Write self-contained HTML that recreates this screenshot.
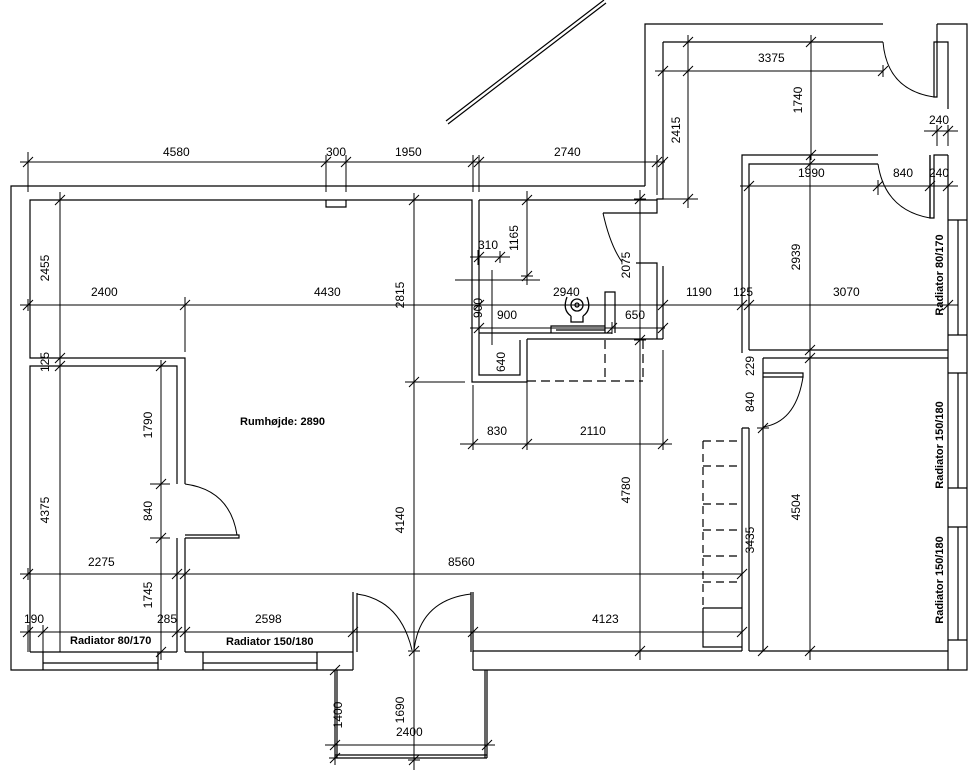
<!DOCTYPE html>
<html><head><meta charset="utf-8"><style>
html,body{margin:0;padding:0;background:#fff;}
svg{display:block}
text{font-family:"Liberation Sans",sans-serif;font-size:12px;fill:#000;}
.b{font-weight:bold;font-size:11px}
</style></head><body>
<svg width="980" height="784" viewBox="0 0 980 784" xmlns="http://www.w3.org/2000/svg">
<defs><path id="t" d="M-5 5 L5 -5 M0 -6 L0 6" stroke="#000" stroke-width="1" fill="none"/>
<path id="tv" d="M-5 5 L5 -5 M-6 0 L6 0" stroke="#000" stroke-width="1" fill="none"/></defs>
<g stroke="#000" stroke-width="1.2" fill="none">
<!-- diagonal -->
<path d="M446 121 L604 0 M448 124 L606 3"/>
<!-- outer walls -->
<path d="M645 186 H11 V670 H353"/>
<path d="M645 186 V24 H883 M937 24 H967 V670 H473"/>
<path d="M937 24 V97 H934 V42 H948 V109 M948 155 H934 V218 H930 V155"/>
<!-- corridor inner -->
<path d="M663 42 H883 M663 42 V199 H657 V213 H603"/>
<path d="M636 263 H657 V339 M663 266 V339 M527 339 H663"/>
<!-- main inner top -->
<path d="M30 652 V366 H177 V484 M185 484 V358 H30 V200 H472 V382 H527 V339 M479 200 H657 M479 200 V340 M479 340 V375 H520 V340 M479 333 H612"/>
<path d="M326 200 V207 H346 V200"/>
<path d="M605 333 V292 H615 V333 M551 333 V326 H605 M556 330 H605"/>
<!-- left room door -->
<path d="M177 538 V652 M185 538 V652 M185 535 H239 V538 H185"/>
<path d="M185 484 Q230 490 237 535" stroke-width="1"/>
<!-- bottom -->
<path d="M30 652 H177 M185 652 H353 M353 652 V670 M473 651 H742 M473 651 V670"/>
<path d="M43 652 V670 M158 652 V670 M43 663 H158 M203 652 V670 M317 652 V670 M203 663 H317"/>
<path d="M353 592 V652 M357 593 V652 M471 592 V652 M473 592 V652"/>
<path d="M357 594 Q400 600 412 650 M471 594 Q420 600 414 650" stroke-width="1"/>
<!-- balcony -->
<path d="M335 670 V758 M337 670 V758 M485 670 V758 M487 670 V758 M335 758 H487 M335 755 H487"/>
<!-- right rooms -->
<path d="M742 353 V155 H878 M749 350 V164 H878 M930 155 V218 M749 350 H948 M948 155 V670"/>
<path d="M763 358 H948 M763 358 V651 M763 373 H803 V377 H763 M742 428 V651 M749 428 V651 M742 428 H749 M749 651 H948"/>
<path d="M803 377 Q796 422 763 427 M883 42 Q887 90 934 97 M878 164 Q885 210 930 218 M603 213 Q610 245 622 262" stroke-width="1"/>
<path d="M948 220 H967 M948 335 H967 M948 373 H967 M948 488 H967 M948 527 H967 M948 640 H967 M958 220 V335 M958 373 V488 M958 527 V640"/>
<!-- stairs -->
<path d="M703 441 H742 M703 466 H742 M703 504 H742 M703 530 H742 M703 556 H742 M703 582 H742 M703 441 V610" stroke-dasharray="8 5"/>
<path d="M703 608 V647 H742 M703 608 H742"/>
<path d="M527 381 H643 M605 340 V380 M643 340 V382" stroke-dasharray="9 5"/>
</g>
<!-- toilet -->
<g stroke="#000" fill="none" stroke-width="1.3"><circle cx="577" cy="305" r="6"/><circle cx="577" cy="305" r="2"/><path d="M567 297 Q562 310 571 316 M587 297 Q592 310 583 316 M571 316 V322 H583 V316"/></g>
<!-- dimension lines -->
<g stroke="#000" stroke-width="1" fill="none">
<path d="M20 162 H480 M28 152 V192 M326 155 V192 M346 155 V192 M473 155 V192 M479 155 V192 M479 162 H665 M657 155 V195"/>
<path d="M655 71 H883 M688 35 V208 M811 35 V160 M663 199 H698"/>
<path d="M740 186 H958 M878 180 V195 M930 180 V195 M924 131 H958 M937 125 V146 M948 125 V146"/>
<path d="M20 305 H958 M185 297 V352"/>
<path d="M60 192 V652 M161 360 V660 M150 484 H170 M150 538 H170"/>
<path d="M20 574 H742 M20 632 H742 M28 625 V652 M43 625 V652 M177 625 V652 M185 625 V652"/>
<path d="M414 193 V770 M405 382 H465 M640 190 V660 M460 444 H672 M473 385 V450 M527 340 V450 M663 350 V450"/>
<path d="M527 191 V285 M470 257 H510 M478 250 V265 M492 270 V345 M470 328 H665 M455 280 H540"/>
<path d="M810 155 V660 M325 745 H495 M335 672 V765"/>
</g>
<g>
<use href="#t" x="28" y="162"/><use href="#t" x="326" y="162"/><use href="#t" x="346" y="162"/><use href="#t" x="473" y="162"/><use href="#t" x="479" y="162"/><use href="#t" x="657" y="162"/><use href="#t" x="663" y="162"/>
<use href="#t" x="663" y="71"/><use href="#t" x="688" y="71"/><use href="#t" x="883" y="71"/><use href="#tv" x="688" y="42"/><use href="#tv" x="688" y="199"/><use href="#tv" x="811" y="42"/><use href="#tv" x="811" y="155"/>
<use href="#t" x="749" y="186"/><use href="#t" x="878" y="186"/><use href="#t" x="930" y="186"/><use href="#t" x="948" y="186"/><use href="#t" x="937" y="131"/><use href="#t" x="948" y="131"/>
<use href="#t" x="28" y="305"/><use href="#t" x="185" y="305"/><use href="#t" x="663" y="305"/><use href="#t" x="742" y="305"/><use href="#t" x="749" y="305"/><use href="#t" x="948" y="305"/><use href="#t" x="479" y="305"/>
<use href="#tv" x="60" y="200"/><use href="#tv" x="60" y="358"/><use href="#tv" x="60" y="366"/><use href="#tv" x="161" y="366"/><use href="#tv" x="161" y="484"/><use href="#tv" x="161" y="538"/><use href="#tv" x="161" y="652"/>
<use href="#t" x="28" y="574"/><use href="#t" x="177" y="574"/><use href="#t" x="185" y="574"/><use href="#t" x="742" y="574"/>
<use href="#t" x="28" y="632"/><use href="#t" x="43" y="632"/><use href="#t" x="177" y="632"/><use href="#t" x="185" y="632"/><use href="#t" x="353" y="632"/><use href="#t" x="473" y="632"/><use href="#t" x="742" y="632"/>
<use href="#tv" x="414" y="200"/><use href="#tv" x="414" y="382"/><use href="#tv" x="414" y="651"/><use href="#tv" x="414" y="760"/><use href="#tv" x="640" y="199"/><use href="#tv" x="640" y="340"/><use href="#tv" x="640" y="651"/>
<use href="#t" x="473" y="444"/><use href="#t" x="527" y="444"/><use href="#t" x="663" y="444"/><use href="#tv" x="527" y="200"/><use href="#tv" x="527" y="276"/>
<use href="#t" x="479" y="257"/><use href="#t" x="500" y="257"/><use href="#t" x="479" y="328"/><use href="#t" x="612" y="328"/><use href="#t" x="663" y="328"/>
<use href="#tv" x="810" y="164"/><use href="#tv" x="810" y="350"/><use href="#tv" x="810" y="358"/><use href="#tv" x="810" y="651"/><use href="#tv" x="763" y="428"/><use href="#tv" x="763" y="651"/>
<use href="#t" x="335" y="745"/><use href="#t" x="487" y="745"/><use href="#tv" x="335" y="670"/><use href="#tv" x="335" y="758"/>
</g>
<!-- labels horizontal -->
<text x="163" y="156">4580</text><text x="326" y="156">300</text><text x="395" y="156">1950</text><text x="554" y="156">2740</text>
<text x="758" y="62">3375</text><text x="929" y="124">240</text>
<text x="798" y="177">1990</text><text x="893" y="177">840</text><text x="929" y="177">240</text>
<text x="91" y="296">2400</text><text x="314" y="296">4430</text><text x="553" y="296">2940</text><text x="686" y="296">1190</text><text x="733" y="296">125</text><text x="833" y="296">3070</text>
<text x="478" y="249">310</text><text x="497" y="319">900</text><text x="625" y="319">650</text>
<text x="487" y="435">830</text><text x="580" y="435">2110</text>
<text x="88" y="566">2275</text><text x="448" y="566">8560</text>
<text x="24" y="623">190</text><text x="157" y="623">285</text><text x="255" y="623">2598</text><text x="592" y="623">4123</text>
<text x="396" y="736">2400</text>
<text class="b" x="70" y="644">Radiator 80/170</text><text class="b" x="226" y="645">Radiator 150/180</text>
<text class="b" x="240" y="425">Rumhøjde: 2890</text>
<!-- rotated labels -->
<g>
<text transform="translate(49,268) rotate(-90)" text-anchor="middle">2455</text>
<text transform="translate(49,362) rotate(-90)" text-anchor="middle">125</text>
<text transform="translate(49,510) rotate(-90)" text-anchor="middle">4375</text>
<text transform="translate(152,425) rotate(-90)" text-anchor="middle">1790</text>
<text transform="translate(152,511) rotate(-90)" text-anchor="middle">840</text>
<text transform="translate(152,595) rotate(-90)" text-anchor="middle">1745</text>
<text transform="translate(404,295) rotate(-90)" text-anchor="middle">2815</text>
<text transform="translate(404,520) rotate(-90)" text-anchor="middle">4140</text>
<text transform="translate(404,710) rotate(-90)" text-anchor="middle">1690</text>
<text transform="translate(342,715) rotate(-90)" text-anchor="middle">1400</text>
<text transform="translate(630,265) rotate(-90)" text-anchor="middle">2075</text>
<text transform="translate(630,490) rotate(-90)" text-anchor="middle">4780</text>
<text transform="translate(518,238) rotate(-90)" text-anchor="middle">1165</text>
<text transform="translate(482,308) rotate(-90)" text-anchor="middle">900</text>
<text transform="translate(505,362) rotate(-90)" text-anchor="middle">640</text>
<text transform="translate(680,130) rotate(-90)" text-anchor="middle">2415</text>
<text transform="translate(802,100) rotate(-90)" text-anchor="middle">1740</text>
<text transform="translate(800,257) rotate(-90)" text-anchor="middle">2939</text>
<text transform="translate(800,507) rotate(-90)" text-anchor="middle">4504</text>
<text transform="translate(754,366) rotate(-90)" text-anchor="middle">229</text>
<text transform="translate(754,402) rotate(-90)" text-anchor="middle">840</text>
<text transform="translate(754,540) rotate(-90)" text-anchor="middle">3435</text>
<text class="b" transform="translate(943,275) rotate(-90)" text-anchor="middle">Radiator 80/170</text>
<text class="b" transform="translate(943,445) rotate(-90)" text-anchor="middle">Radiator 150/180</text>
<text class="b" transform="translate(943,580) rotate(-90)" text-anchor="middle">Radiator 150/180</text>
</g>
</svg>
</body></html>
